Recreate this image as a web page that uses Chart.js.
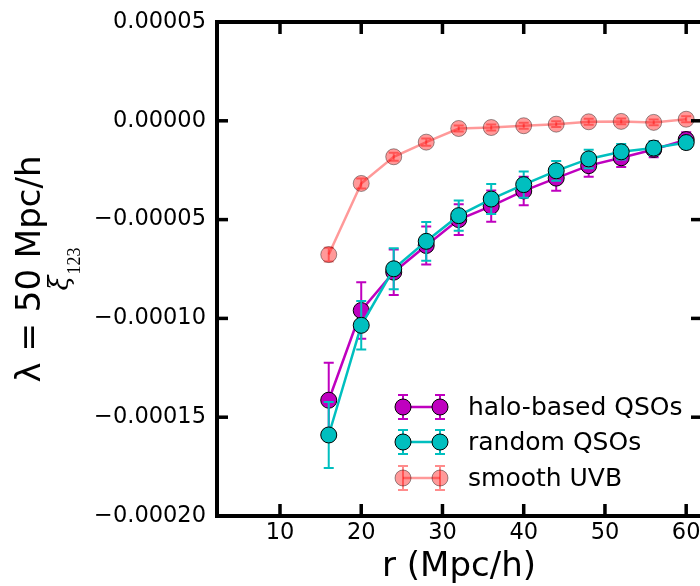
<!DOCTYPE html>
<html><head><meta charset="utf-8">
<script src="https://cdn.jsdelivr.net/npm/chart.js@4/dist/chart.umd.min.js"></script>
<style>html,body{margin:0;padding:0;background:#fff;}canvas{display:block;}</style>
</head><body>
<canvas id="c" width="700" height="586"></canvas>
<script>
const rValues   = [16, 20, 24, 28, 32, 36, 40, 44, 48, 52, 56, 60];
const haloXi    = [-14.14e-5, -9.6e-5, -7.66e-5, -6.31e-5, -5.0e-5, -4.32e-5, -3.55e-5, -2.9e-5, -2.27e-5, -1.87e-5, -1.45e-5, -0.95e-5];
const haloErr   = [1.9e-5, 1.43e-5, 1.15e-5, 0.96e-5, 0.78e-5, 0.79e-5, 0.72e-5, 0.64e-5, 0.56e-5, 0.47e-5, 0.4e-5, 0.37e-5];
const randomXi  = [-15.9e-5, -10.35e-5, -7.49e-5, -6.1e-5, -4.8e-5, -3.96e-5, -3.23e-5, -2.53e-5, -1.93e-5, -1.57e-5, -1.38e-5, -1.1e-5];
const randomErr = [1.67e-5, 1.23e-5, 1.04e-5, 0.98e-5, 0.77e-5, 0.76e-5, 0.66e-5, 0.5e-5, 0.47e-5, 0.39e-5, 0.35e-5, 0.32e-5];
const smoothXi  = [-6.77e-5, -3.17e-5, -1.82e-5, -1.08e-5, -0.39e-5, -0.34e-5, -0.25e-5, -0.17e-5, -0.05e-5, -0.03e-5, -0.08e-5, 0.08e-5];
const smoothErr = [0.35e-5, 0.25e-5, 0.2e-5, 0.18e-5, 0.15e-5, 0.15e-5, 0.15e-5, 0.15e-5, 0.15e-5, 0.15e-5, 0.15e-5, 0.15e-5];
const xTicks = [10, 20, 30, 40, 50, 60];
const yTicks = [-0.0002, -0.00015, -0.0001, -0.00005, 0, 0.00005];
const seriesNames = ['halo-based QSOs', 'random QSOs', 'smooth UVB'];
const xTitle = 'r (Mpc/h)';
const yTitle = 'λ = 50 Mpc/h';
const yTitle2 = 'ξ';
const yTitle2Sub = '123';

const seriesY = [haloXi, randomXi, smoothXi];
const seriesErr = [haloErr, randomErr, smoothErr];
const styles = [
  {line: '#bf00bf', fill: '#bf00bf', edge: '#000000', err: '#bf00bf'},
  {line: '#00bfbf', fill: '#00bfbf', edge: '#000000', err: '#00bfbf'},
  {line: 'rgba(255,0,0,0.4)', fill: 'rgba(255,0,0,0.4)', edge: 'rgba(0,0,0,0.4)', err: 'rgba(255,0,0,0.45)'}
];

const datasets = seriesNames.map((name, i) => ({
  label: name,
  data: rValues.map((x, j) => ({x: x, y: seriesY[i][j]})),
  errors: seriesErr[i],
  errColor: styles[i].err,
  showLine: true,
  borderColor: styles[i].line,
  borderWidth: 2.5,
  pointRadius: 8,
  pointBackgroundColor: styles[i].fill,
  pointBorderColor: styles[i].edge,
  pointBorderWidth: 1,
  order: 3 - i,
  clip: false
}));

function drawErr(ctx, px, y1, y2, color) {
  ctx.save();
  ctx.strokeStyle = color;
  ctx.lineWidth = 2;
  ctx.beginPath();
  ctx.moveTo(px, y1); ctx.lineTo(px, y2);
  ctx.moveTo(px - 5, y1); ctx.lineTo(px + 5, y1);
  ctx.moveTo(px - 5, y2); ctx.lineTo(px + 5, y2);
  ctx.stroke();
  ctx.restore();
}

const errorBarPlugin = {
  id: 'errorbars',
  beforeDatasetDraw(chart, args) {
    const ds = chart.data.datasets[args.index];
    const xs = chart.scales.x, ys = chart.scales.y;
    ds.data.forEach((p, j) => {
      const e = ds.errors[j];
      drawErr(chart.ctx, xs.getPixelForValue(p.x), ys.getPixelForValue(p.y + e), ys.getPixelForValue(p.y - e), ds.errColor);
    });
  }
};

const decorPlugin = {
  id: 'decor',
  afterDraw(chart) {
    const ctx = chart.ctx, xs = chart.scales.x, ys = chart.scales.y;
    const a = chart.chartArea;
    ctx.save();
    ctx.fillStyle = '#000';
    // spines
    ctx.fillRect(a.left, a.top - 2, 4, a.bottom - a.top + 4);
    ctx.fillRect(a.left, a.top - 2, a.right - a.left, 4);
    ctx.fillRect(a.left, a.bottom - 2, a.right - a.left, 4);
    // ticks
    xTicks.forEach(v => {
      const px = xs.getPixelForValue(v);
      ctx.fillRect(px - 1.75, a.bottom - 12, 3.5, 12);
      ctx.fillRect(px - 1.75, a.top, 3.5, 12);
    });
    yTicks.forEach(v => {
      const py = ys.getPixelForValue(v);
      ctx.fillRect(a.left, py - 1.75, 13, 3.5);
      ctx.fillRect(a.right - 9, py - 1.75, 9, 3.5);
    });
    // axis titles
    ctx.fillStyle = '#000';
    ctx.font = '34px "DejaVu Sans"';
    ctx.textAlign = 'center';
    ctx.textBaseline = 'alphabetic';
    ctx.fillText(xTitle, 459, 576);
    ctx.save();
    ctx.translate(40, (a.top + a.bottom) / 2);
    ctx.rotate(-Math.PI / 2);
    ctx.fillText(yTitle, 0, 0);
    ctx.restore();
    ctx.save();
    ctx.translate(68, (a.top + a.bottom) / 2);
    ctx.rotate(-Math.PI / 2);
    ctx.textAlign = 'left';
    ctx.font = 'italic 27px "DejaVu Serif"';
    const w1 = ctx.measureText(yTitle2).width;
    ctx.font = '18px "Liberation Serif"';
    const w2 = ctx.measureText(yTitle2Sub).width;
    const start = -(w1 + w2 + 1) / 2;
    ctx.font = 'italic 27px "DejaVu Serif"';
    ctx.fillText(yTitle2, start, 0);
    ctx.font = '18px "Liberation Serif"';
    ctx.fillText(yTitle2Sub, start + w1 + 1, 12);
    ctx.restore();
    // legend
    const rows = [407, 442, 478];
    const mx = [403, 440];
    ctx.font = '25px "DejaVu Sans"';
    ctx.textAlign = 'left';
    ctx.textBaseline = 'middle';
    seriesNames.forEach((name, i) => {
      const y = rows[i];
      const st = styles[i];
      mx.forEach(x => drawErr(ctx, x, y - 12, y + 12, st.err));
      ctx.strokeStyle = st.line;
      ctx.lineWidth = 2.5;
      ctx.beginPath(); ctx.moveTo(mx[0], y); ctx.lineTo(mx[1], y); ctx.stroke();
      mx.forEach(x => {
        ctx.beginPath(); ctx.arc(x, y, 8, 0, Math.PI * 2);
        ctx.fillStyle = st.fill; ctx.fill();
        ctx.lineWidth = 1; ctx.strokeStyle = st.edge; ctx.stroke();
      });
      ctx.fillStyle = '#000';
      ctx.fillText(name, 468, y + 1);
    });
    ctx.restore();
  }
};

Chart.defaults.font.family = '"DejaVu Sans"';
Chart.defaults.color = '#000';

new Chart(document.getElementById('c'), {
  type: 'scatter',
  data: {datasets: datasets},
  options: {
    responsive: false,
    animation: false,
    devicePixelRatio: 1,
    layout: {autoPadding: false, padding: {top: 22, right: 0, left: 0, bottom: 0}},
    plugins: {legend: {display: false}, tooltip: {enabled: false}},
    scales: {
      x: {
        type: 'linear', min: 2, max: 61.7,
        grid: {display: false, drawTicks: false},
        border: {display: false},
        ticks: {font: {size: 22.5}, color: '#000', padding: 4, maxRotation: 0},
        afterBuildTicks: s => { s.ticks = xTicks.map(v => ({value: v})); },
        afterFit: s => { s.height = 70; s.paddingLeft = 0; s.paddingRight = 0; }
      },
      y: {
        type: 'linear', min: -0.0002, max: 0.00005,
        grid: {display: false, drawTicks: false},
        border: {display: false},
        ticks: {font: {size: 22.5}, color: '#000', padding: 9,
          callback: v => (v < -1e-12 ? '\u2212' : '') + Math.abs(v).toFixed(5)},
        afterBuildTicks: s => { s.ticks = yTicks.map(v => ({value: v})); },
        afterFit: s => { s.width = 215; s.paddingTop = 0; s.paddingBottom = 0; }
      }
    }
  },
  plugins: [errorBarPlugin, decorPlugin]
});
</script>
</body></html>
